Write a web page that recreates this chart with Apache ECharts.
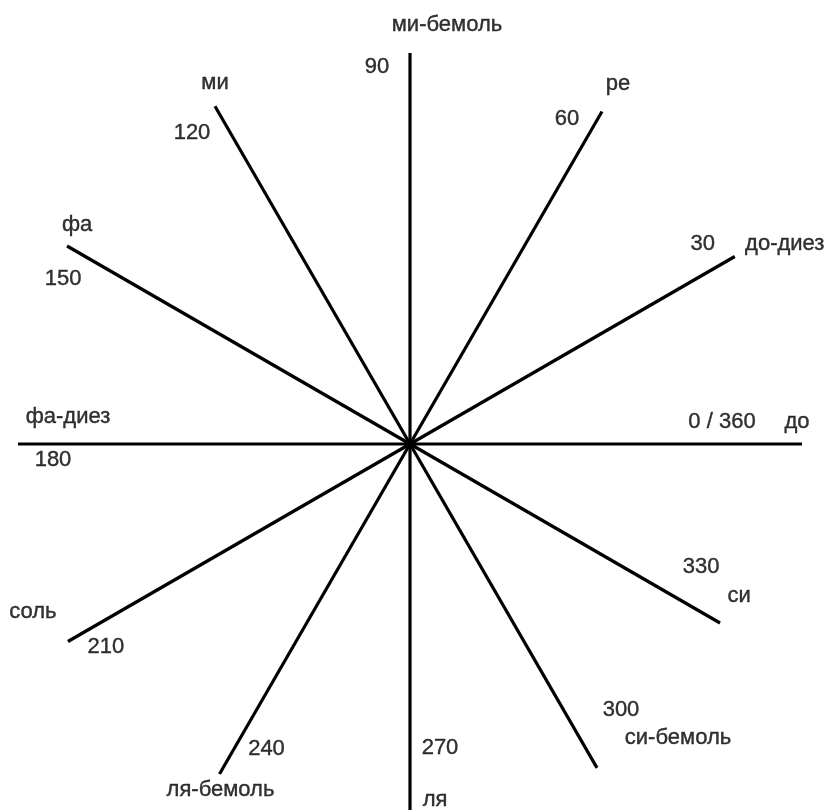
<!DOCTYPE html>
<html>
<head>
<meta charset="utf-8">
<script src="https://cdn.jsdelivr.net/npm/echarts@6/dist/echarts.min.js"></script>
<style>
  html, body { margin: 0; padding: 0; background: #ffffff; }
  #chart { width: 829px; height: 810px; }
</style>
</head>
<body>
<div id="chart"></div>
<script>
// Data
const angles = [0, 30, 60, 90, 120, 150, 180, 210, 240, 270, 300, 330];
const degreeLabels = ['0 / 360', '30', '60', '90', '120', '150', '180', '210', '240', '270', '300', '330'];
const noteNames = ['до', 'до-диез', 'ре', 'ми-бемоль', 'ми', 'фа', 'фа-диез', 'соль', 'ля-бемоль', 'ля', 'си-бемоль', 'си'];
const spokeLengths = [392, 375, 384, 391, 390, 396, 392, 395, 381, 370, 374, 358];

// Layout (label offsets from spoke ends, px)
const degreeOffsets = [[-80, -22], [-32, -13], [-35, 7], [-33, 14], [-23, 27], [-4, 33], [35, 16], [38, 5], [47, -25], [30, -66], [24, -58], [-19, -56]];
const noteOffsets = [[-5, -22], [50, -13], [16, -28], [37, -28], [0, -23], [10, -21], [50, -27], [-35, -30], [1, 16], [25, -14], [81, -30], [19, -27]];

const chart = echarts.init(document.getElementById('chart'), null, { renderer: 'canvas' });

const textStyle = {
  fontFamily: '"Liberation Sans", Arial, sans-serif',
  fontSize: 22,
  color: '#000000',
  textBorderColor: '#000000',
  textBorderWidth: 0.4
};

const spokeSeries = angles.map((a, i) => ({
  type: 'line',
  coordinateSystem: 'polar',
  data: [[0, a], [spokeLengths[i], a]],
  symbol: 'none',
  silent: true,
  clip: false,
  lineStyle: { color: '#000000', width: 3.2 },
  z: 2
}));

function labelSeries(texts, offsets) {
  return {
    type: 'scatter',
    coordinateSystem: 'polar',
    symbolSize: 0,
    silent: true,
    clip: false,
    z: 3,
    data: angles.map((a, i) => ({
      value: [spokeLengths[i], a],
      label: {
        show: true,
        position: 'inside',
        offset: offsets[i],
        formatter: texts[i],
        align: 'center',
        verticalAlign: 'middle',
        ...textStyle
      }
    }))
  };
}

chart.setOption({
  animation: false,
  backgroundColor: '#ffffff',
  polar: { center: [410, 444], radius: 400 },
  angleAxis: {
    type: 'value', min: 0, max: 360, startAngle: 0, clockwise: false,
    axisLine: { show: false }, axisTick: { show: false }, axisLabel: { show: false },
    splitLine: { show: false }
  },
  radiusAxis: {
    type: 'value', min: 0, max: 400,
    axisLine: { show: false }, axisTick: { show: false }, axisLabel: { show: false },
    splitLine: { show: false }
  },
  series: [...spokeSeries, labelSeries(degreeLabels, degreeOffsets), labelSeries(noteNames, noteOffsets)]
});
</script>
</body>
</html>
